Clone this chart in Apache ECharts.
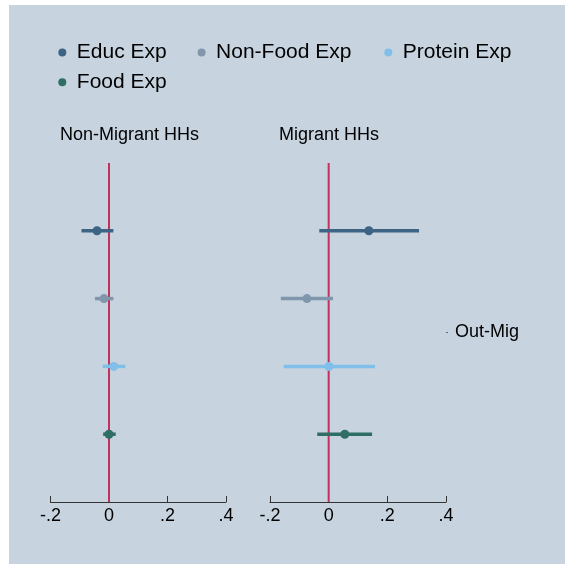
<!DOCTYPE html>
<html><head><meta charset="utf-8">
<script src="https://cdn.jsdelivr.net/npm/echarts@6/dist/echarts.min.js"></script>
<style>html,body{margin:0;padding:0;background:#fff}#c{width:565px;height:564px}</style>
</head><body><div id="c"></div>
<script>
// ---- data ----
const categories = ['Educ Exp', 'Non-Food Exp', 'Protein Exp', 'Food Exp'];
const panelTitles = ['Non-Migrant HHs', 'Migrant HHs'];
const rowLabel = 'Out-Mig';
const xTicks = [-0.2, 0, 0.2, 0.4];
const nonMigCoef = [-0.041, -0.017, 0.016, 0.000];
const nonMigLo   = [-0.094, -0.048, -0.022, -0.020];
const nonMigHi   = [0.015, 0.015, 0.056, 0.023];
const migCoef    = [0.137, -0.074, 0.001, 0.055];
const migLo      = [-0.032, -0.163, -0.153, -0.039];
const migHi      = [0.308, 0.015, 0.158, 0.148];

// ---- styles ----
const colors = ['#3d6484', '#8096ac', '#80bfe9', '#2f6e64'];
const refColor = '#c0325a';
const bg = '#c7d3df';
const FONT = '"Liberation Sans", Arial, Helvetica, sans-serif';

const chart = echarts.init(document.getElementById('c'), null, {renderer: 'canvas'});

const fmt = v => {
  const r = Math.round(v * 10) / 10;
  if (r === 0) return '0';
  return (r < 0 ? '-' : '') + Math.abs(r).toFixed(1).replace(/^0/, '');
};

const panels = [
  {coef: nonMigCoef, lo: nonMigLo, hi: nonMigHi},
  {coef: migCoef, lo: migLo, hi: migHi}
];
const nRows = categories.length + 1;

const series = [];
panels.forEach((p, g) => {
  series.push({
    type: 'line', xAxisIndex: g, yAxisIndex: g, silent: true, symbol: 'none', z: 1,
    data: [[0, 0], [0, nRows]],
    lineStyle: {color: refColor, width: 2}
  });
  categories.forEach((name, i) => {
    const row = categories.length - i;
    series.push({
      name, type: 'scatter', xAxisIndex: g, yAxisIndex: g, z: 4,
      data: [[p.coef[i], row]], symbolSize: 9,
      itemStyle: {color: colors[i], opacity: 1}
    });
    series.push({
      name, type: 'custom', xAxisIndex: g, yAxisIndex: g, z: 3,
      data: [[p.lo[i], p.hi[i], row]],
      encode: {x: [0, 1], y: 2},
      renderItem: (params, api) => {
        const a = api.coord([api.value(0), api.value(2)]);
        const b = api.coord([api.value(1), api.value(2)]);
        return {type: 'line', shape: {x1: a[0], y1: a[1], x2: b[0], y2: b[1]},
          style: {stroke: colors[i], lineWidth: 3.5}};
      }
    });
  });
});

const grids = [
  {left: 50.5, top: 163, width: 175.5, height: 339},
  {left: 270, top: 163, width: 176, height: 339}
];

const xAxis = grids.map((gr, g) => ({
  type: 'value', gridIndex: g, min: xTicks[0], max: xTicks[xTicks.length - 1], interval: 0.2,
  axisLine: {show: true, onZero: false, lineStyle: {color: '#333', width: 1}},
  axisTick: {show: true, inside: true, length: 6, lineStyle: {color: '#333'}},
  axisLabel: {formatter: fmt, color: '#000', fontSize: 18, fontFamily: FONT, margin: 5},
  splitLine: {show: false}
}));

const yAxis = [
  {type: 'value', gridIndex: 0, min: 0, max: nRows, show: false},
  {type: 'value', gridIndex: 1, min: 0, max: nRows, show: false},
  {type: 'value', gridIndex: 1, min: 0, max: nRows, position: 'right',
    axisLine: {show: false},
    axisTick: {show: true, length: 2, customValues: [nRows / 2], lineStyle: {color: '#666'}},
    axisLabel: {show: true, customValues: [nRows / 2], formatter: () => rowLabel,
      color: '#000', fontSize: 18, fontFamily: FONT, margin: 9, padding: [6, 0, 0, 0]},
    splitLine: {show: false}}
];

const legPos = [[58.3, 42], [197.6, 42], [384.3, 42], [58.3, 71.7]];
const legend = categories.map((name, i) => ({
  data: [{name, icon: 'circle'}], left: legPos[i][0], top: legPos[i][1], padding: 0,
  itemWidth: 19, itemHeight: 8, itemGap: 0,
  textStyle: {color: '#000', fontSize: 21, fontFamily: FONT}
}));

const titles = panelTitles.map((t, i) => ({
  text: t, left: i === 0 ? 60 : 279, top: 126, padding: 0,
  textStyle: {color: '#000', fontSize: 18, fontWeight: 'normal', fontFamily: FONT}
}));

chart.setOption({
  backgroundColor: '#fff',
  animation: false,
  graphic: [{type: 'rect', silent: true, z: -100, shape: {x: 9, y: 5, width: 556, height: 559}, style: {fill: bg}}],
  title: titles,
  legend,
  grid: grids,
  xAxis,
  yAxis,
  series
});
</script></body></html>
